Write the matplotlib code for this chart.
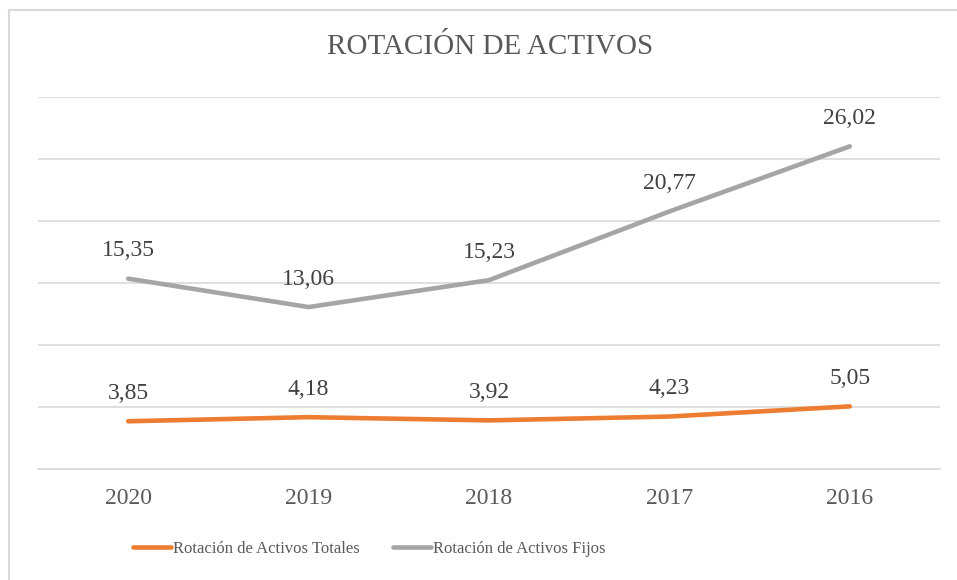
import matplotlib
matplotlib.use("Agg")
import matplotlib.pyplot as plt
from matplotlib.lines import Line2D
import numpy as np

years = ["2020", "2019", "2018", "2017", "2016"]
totales = [3.85, 4.18, 3.92, 4.23, 5.05]
fijos = [15.35, 13.06, 15.23, 20.77, 26.02]
labels_totales = ["3,85", "4,18", "3,92", "4,23", "5,05"]
labels_fijos = ["15,35", "13,06", "15,23", "20,77", "26,02"]

plt.rcParams["font.family"] = ["Liberation Serif", "DejaVu Serif"]

W, H = 957, 580
fig = plt.figure(figsize=(W / 100, H / 100), dpi=100)
ax = fig.add_axes([38 / W, 1 - 469 / H, (940 - 38) / W, (469 - 97) / H])

orange = "#ED7D31"
gray = "#A5A5A5"
x = np.arange(len(years))

ax.plot(x, totales, color=orange, lw=3.3, solid_capstyle="round",
        label="Rotación de Activos Totales")
ax.plot(x, fijos, color=gray, lw=3.3, solid_capstyle="round",
        label="Rotación de Activos Fijos")

for xi, v, t in zip(x, totales, labels_totales):
    ax.annotate(t, (xi, v), xytext=(0, 16), textcoords="offset points",
                ha="center", va="baseline", fontsize=17, color="#404040")
for xi, v, t in zip(x, fijos, labels_fijos):
    ax.annotate(t, (xi, v), xytext=(0, 16), textcoords="offset points",
                ha="center", va="baseline", fontsize=17, color="#404040")

ax.set_xlim(-0.5, len(years) - 0.5)
ax.set_ylim(0, 30)
ax.set_yticks(np.arange(0, 31, 5))
ax.set_yticklabels([])
ax.yaxis.grid(True, color="#D9D9D9", lw=1.2)
ax.set_axisbelow(True)
ax.tick_params(axis="y", length=0)
ax.set_xticks(x)
ax.set_xticklabels(years, fontsize=17, color="#595959")
ax.tick_params(axis="x", length=0, pad=14)
for s in ["left", "right", "top"]:
    ax.spines[s].set_visible(False)
ax.spines["bottom"].set_color("#D9D9D9")
ax.spines["bottom"].set_linewidth(1.2)

fig.text(490 / W, 1 - 47 / H, "ROTACIÓN DE ACTIVOS", ha="center", va="center",
         fontsize=21, color="#595959")

leg = fig.legend(loc="center left", bbox_to_anchor=(133 / W, 1 - 549 / H), ncol=2,
                 frameon=False, fontsize=12, labelcolor="#595959",
                 handlelength=2.3, handletextpad=0.1, columnspacing=2.0,
                 borderaxespad=0, borderpad=0)

# chart frame
fig.add_artist(Line2D([9 / W, 9 / W], [0, 1 - 10 / H], transform=fig.transFigure,
                      color="#D9D9D9", lw=1.5))
fig.add_artist(Line2D([9 / W, 1], [1 - 10 / H, 1 - 10 / H], transform=fig.transFigure,
                      color="#D9D9D9", lw=1.5))

fig.savefig("out.png", dpi=100)
